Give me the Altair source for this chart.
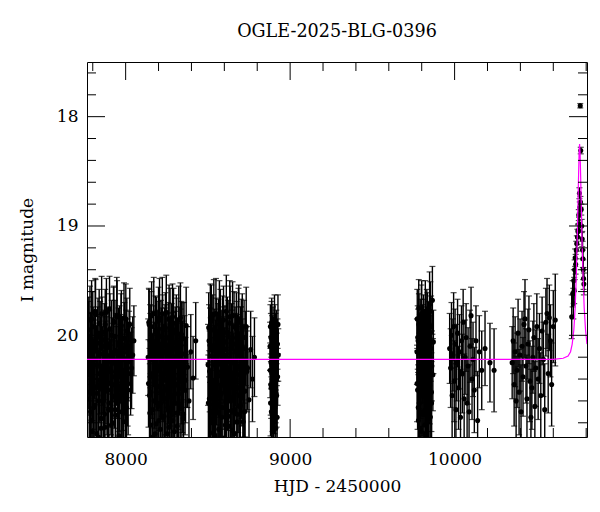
import altair as alt
import pandas as pd

FONT = "DejaVu Serif"

# ---- season 1 ----
s1_t = [7772, 7776, 7781, 7785, 7790, 7793, 7798, 7802, 7806, 7811,
        7815, 7819, 7824, 7828, 7832, 7837, 7841, 7845, 7850, 7854,
        7858, 7863, 7867, 7872, 7876, 7880, 7885, 7889, 7893, 7898,
        7902, 7906, 7911, 7915, 7920, 7924, 7928, 7933, 7937, 7941,
        7946, 7950, 7955, 7959, 7963, 7968, 7972, 7976, 7981, 7985,
        7990, 7994, 7998, 8003, 8007, 8012, 8018, 8025, 8036, 8050,
        7770, 7774, 7779, 7783, 7787, 7792, 7796, 7800, 7804, 7809,
        7813, 7817, 7822, 7826, 7830, 7835, 7839, 7843, 7848, 7852,
        7856, 7861, 7865, 7870, 7874, 7878, 7883, 7887, 7891, 7896,
        7900, 7904, 7909, 7913, 7918, 7922, 7926, 7931, 7935, 7939,
        7944, 7948, 7953, 7957, 7961, 7966, 7970, 7974, 7979, 7983,
        7988, 7992, 7996, 8001, 8005, 8010, 8015, 8021, 8030, 8043]
s1_m = [20.31, 19.95, 20.52, 20.12, 20.78, 19.85, 20.40, 20.05, 20.66, 20.22,
        19.78, 20.48, 20.90, 20.15, 19.98, 20.60, 20.35, 20.02, 20.85, 19.80,
        20.28, 20.55, 20.10, 20.72, 19.90, 20.42, 20.18, 20.95, 20.08, 20.62,
        19.76, 20.33, 20.50, 20.00, 20.80, 20.25, 19.88, 20.45, 20.68, 20.14,
        19.82, 20.58, 20.38, 20.92, 20.06, 20.26, 19.93, 20.70, 20.20, 20.47,
        19.84, 20.36, 20.64, 20.11, 19.96, 20.44, 20.24, 19.90, 20.30, 20.05,
        20.58, 20.02, 20.36, 19.86, 20.70, 20.20, 20.88, 19.92, 20.46, 20.13,
        20.64, 19.81, 20.27, 20.53, 20.07, 20.93, 19.89, 20.41, 20.17, 20.76,
        19.97, 20.34, 20.60, 20.04, 20.84, 20.23, 19.79, 20.50, 20.30, 20.68,
        20.11, 19.94, 20.44, 20.82, 20.19, 20.56, 19.87, 20.38, 20.01, 20.73,
        20.28, 19.83, 20.62, 20.09, 20.48, 20.96, 20.16, 19.91, 20.54, 20.32,
        20.79, 20.03, 20.40, 19.85, 20.66, 20.21, 20.50, 20.12, 20.35, 20.18]
s1_e = [0.36, 0.30, 0.42, 0.33, 0.48, 0.35, 0.38, 0.31, 0.45, 0.36,
        0.30, 0.40, 0.50, 0.34, 0.32, 0.44, 0.37, 0.33, 0.49, 0.34,
        0.36, 0.41, 0.33, 0.46, 0.32, 0.39, 0.35, 0.50, 0.34, 0.43,
        0.30, 0.37, 0.41, 0.32, 0.47, 0.36, 0.33, 0.40, 0.45, 0.34,
        0.35, 0.42, 0.38, 0.49, 0.33, 0.36, 0.31, 0.46, 0.35, 0.40,
        0.32, 0.37, 0.44, 0.34, 0.30, 0.39, 0.36, 0.33, 0.37, 0.32,
        0.42, 0.33, 0.37, 0.31, 0.46, 0.35, 0.49, 0.32, 0.40, 0.34,
        0.44, 0.32, 0.36, 0.41, 0.33, 0.50, 0.31, 0.39, 0.34, 0.47,
        0.32, 0.37, 0.43, 0.33, 0.48, 0.36, 0.31, 0.41, 0.36, 0.45,
        0.34, 0.32, 0.40, 0.48, 0.35, 0.42, 0.31, 0.38, 0.33, 0.46,
        0.36, 0.33, 0.44, 0.34, 0.40, 0.51, 0.35, 0.32, 0.42, 0.37,
        0.47, 0.33, 0.39, 0.32, 0.45, 0.36, 0.41, 0.34, 0.38, 0.35]

# ---- season 2 ----
s2_t = [8137, 8141, 8145, 8149, 8152, 8156, 8160, 8164, 8168, 8171,
        8175, 8179, 8183, 8187, 8190, 8194, 8198, 8202, 8206, 8209,
        8213, 8217, 8221, 8225, 8228, 8232, 8236, 8240, 8244, 8247,
        8251, 8255, 8259, 8263, 8266, 8270, 8274, 8278, 8282, 8285,
        8289, 8293, 8297, 8301, 8304, 8308, 8312, 8316, 8320, 8323,
        8327, 8331, 8335, 8339, 8342, 8346, 8350, 8355, 8361, 8368,
        8376, 8385, 8396, 8410, 8426,
        8139, 8143, 8147, 8150, 8154, 8158, 8162, 8166, 8170, 8173,
        8177, 8181, 8185, 8188, 8192, 8196, 8200, 8204, 8207, 8211,
        8215, 8219, 8223, 8226, 8230, 8234, 8238, 8242, 8245, 8249,
        8253, 8257, 8261, 8264, 8268, 8272, 8276, 8280, 8283, 8287,
        8291, 8295, 8299, 8302, 8306, 8310, 8314, 8318, 8321, 8325,
        8329, 8333, 8337, 8340, 8344, 8348, 8352, 8358, 8364, 8372]
s2_m = [20.20, 19.88, 20.55, 20.05, 20.82, 19.92, 20.38, 20.68, 20.12, 19.80,
        20.45, 20.90, 20.25, 19.97, 20.62, 20.32, 20.00, 20.78, 19.84, 20.28,
        20.52, 20.08, 20.74, 19.94, 20.40, 20.16, 20.96, 20.04, 20.58, 19.79,
        20.30, 20.48, 20.02, 20.84, 20.22, 19.90, 20.43, 20.66, 20.13, 19.83,
        20.56, 20.36, 20.88, 20.07, 20.27, 19.95, 20.71, 20.19, 20.46, 19.86,
        20.34, 20.63, 20.10, 19.99, 20.42, 20.23, 20.76, 20.03, 20.50, 19.91,
        20.29, 20.60, 20.15, 20.39, 20.05,
        20.44, 19.90, 20.71, 20.14, 20.52, 19.82, 20.35, 20.93, 20.06, 20.60,
        20.24, 19.96, 20.81, 20.31, 20.11, 20.65, 19.87, 20.47, 20.19, 20.86,
        20.01, 20.39, 19.80, 20.57, 20.26, 20.74, 20.09, 19.93, 20.50, 20.33,
        20.90, 20.15, 20.42, 19.85, 20.69, 20.22, 20.55, 20.04, 20.37, 20.78,
        19.89, 20.28, 20.62, 20.12, 20.45, 19.98, 20.83, 20.20, 20.53, 20.07,
        20.36, 19.84, 20.67, 20.25, 20.49, 20.03, 20.72, 20.17, 20.41, 20.29]
s2_e = [0.35, 0.31, 0.43, 0.33, 0.47, 0.32, 0.38, 0.45, 0.34, 0.33,
        0.40, 0.50, 0.36, 0.32, 0.44, 0.37, 0.31, 0.48, 0.36, 0.35,
        0.42, 0.33, 0.46, 0.31, 0.39, 0.34, 0.51, 0.32, 0.43, 0.34,
        0.36, 0.41, 0.32, 0.48, 0.35, 0.33, 0.40, 0.45, 0.34, 0.30,
        0.42, 0.38, 0.49, 0.33, 0.36, 0.32, 0.46, 0.35, 0.40, 0.31,
        0.37, 0.44, 0.34, 0.30, 0.39, 0.36, 0.47, 0.33, 0.41, 0.35,
        0.37, 0.43, 0.34, 0.38, 0.35,
        0.40, 0.32, 0.45, 0.34, 0.42, 0.31, 0.37, 0.50, 0.33, 0.44,
        0.36, 0.32, 0.48, 0.37, 0.34, 0.45, 0.31, 0.40, 0.35, 0.49,
        0.33, 0.38, 0.33, 0.43, 0.36, 0.46, 0.34, 0.32, 0.41, 0.37,
        0.50, 0.35, 0.39, 0.31, 0.45, 0.36, 0.42, 0.33, 0.38, 0.47,
        0.32, 0.36, 0.44, 0.34, 0.40, 0.32, 0.48, 0.35, 0.42, 0.33,
        0.37, 0.32, 0.45, 0.36, 0.40, 0.33, 0.46, 0.35, 0.39, 0.37]

# ---- season 3 ----
s3_t = [8501, 8505, 8509, 8513, 8517, 8521, 8524, 8528, 8532, 8536,
        8540, 8543, 8547, 8551, 8555, 8559, 8562, 8566, 8570, 8574,
        8578, 8581, 8585, 8589, 8593, 8597, 8600, 8604, 8608, 8612,
        8616, 8619, 8623, 8627, 8631, 8635, 8638, 8642, 8646, 8650,
        8654, 8657, 8661, 8665, 8669, 8673, 8676, 8680, 8684, 8688,
        8692, 8695, 8699, 8703, 8707, 8711, 8715, 8720, 8726, 8733,
        8741, 8750, 8760, 8771, 8783,
        8503, 8507, 8511, 8515, 8519, 8523, 8526, 8530, 8534, 8538,
        8542, 8545, 8549, 8553, 8557, 8561, 8564, 8568, 8572, 8576,
        8580, 8583, 8587, 8591, 8595, 8599, 8602, 8606, 8610, 8614,
        8618, 8621, 8625, 8629, 8633, 8637, 8640, 8644, 8648, 8652,
        8656, 8659, 8663, 8667, 8671, 8675, 8678, 8682, 8686, 8690,
        8694, 8697, 8701, 8705, 8709, 8713, 8718, 8723, 8730, 8737]
s3_m = [20.27, 19.93, 20.58, 20.09, 20.80, 19.87, 20.41, 20.70, 20.14, 19.81,
        20.49, 20.92, 20.21, 19.99, 20.64, 20.33, 20.03, 20.86, 19.85, 20.26,
        20.54, 20.11, 20.75, 19.96, 20.37, 20.18, 20.94, 20.06, 20.61, 19.78,
        20.31, 20.47, 20.01, 20.83, 20.24, 19.89, 20.44, 20.69, 20.12, 19.82,
        20.57, 20.35, 20.90, 20.08, 20.28, 19.94, 20.72, 20.17, 20.48, 19.86,
        20.36, 20.65, 20.09, 19.98, 20.43, 20.22, 20.79, 20.02, 20.51, 19.92,
        20.30, 20.59, 20.13, 20.40, 20.20,
        20.62, 20.05, 20.33, 19.84, 20.77, 20.19, 20.50, 19.95, 20.89, 20.27,
        20.10, 20.58, 19.80, 20.43, 20.16, 20.71, 20.00, 20.37, 20.95, 19.90,
        20.53, 20.23, 20.66, 20.08, 19.86, 20.46, 20.30, 20.82, 20.13, 20.56,
        19.97, 20.40, 20.74, 20.21, 19.83, 20.60, 20.34, 20.04, 20.87, 20.25,
        20.48, 19.92, 20.68, 20.15, 20.42, 20.02, 20.79, 20.29, 19.88, 20.55,
        20.18, 20.64, 20.07, 20.38, 19.94, 20.52, 20.26, 20.70, 20.12, 20.33]
s3_e = [0.37, 0.32, 0.44, 0.34, 0.48, 0.33, 0.39, 0.46, 0.35, 0.32,
        0.41, 0.50, 0.35, 0.33, 0.45, 0.38, 0.32, 0.49, 0.35, 0.36,
        0.43, 0.34, 0.47, 0.32, 0.38, 0.35, 0.51, 0.33, 0.44, 0.33,
        0.37, 0.40, 0.33, 0.48, 0.36, 0.34, 0.41, 0.46, 0.35, 0.31,
        0.43, 0.37, 0.50, 0.34, 0.37, 0.33, 0.47, 0.36, 0.41, 0.32,
        0.38, 0.45, 0.35, 0.31, 0.40, 0.37, 0.48, 0.34, 0.42, 0.36,
        0.38, 0.44, 0.35, 0.39, 0.36,
        0.44, 0.33, 0.37, 0.31, 0.47, 0.35, 0.41, 0.32, 0.49, 0.36,
        0.34, 0.43, 0.32, 0.39, 0.35, 0.46, 0.33, 0.38, 0.51, 0.32,
        0.41, 0.36, 0.45, 0.34, 0.31, 0.40, 0.37, 0.48, 0.34, 0.42,
        0.32, 0.39, 0.46, 0.35, 0.33, 0.43, 0.37, 0.33, 0.49, 0.36,
        0.40, 0.32, 0.45, 0.35, 0.39, 0.33, 0.47, 0.37, 0.31, 0.42,
        0.35, 0.44, 0.33, 0.38, 0.32, 0.41, 0.36, 0.46, 0.34, 0.37]

# ---- season 4 ----
s4_t = [8878, 8880, 8882, 8884, 8886, 8888, 8889, 8891, 8893, 8895,
        8896, 8898, 8900, 8901, 8903, 8905, 8906, 8908, 8910, 8911,
        8913, 8914, 8916, 8918, 8919, 8921, 8923, 8924, 8926, 8928,
        8879, 8881, 8883, 8885, 8887, 8890, 8892, 8894, 8897, 8899,
        8902, 8904, 8907, 8909, 8912]
s4_m = [20.10, 19.92, 20.45, 20.25, 20.70, 19.88, 20.35, 20.05, 20.58, 20.20,
        19.95, 20.80, 20.30, 20.12, 20.50, 19.85, 20.40, 20.65, 20.15, 20.02,
        20.85, 20.28, 19.98, 20.55, 20.22, 20.75, 20.08, 20.38, 19.90, 20.18,
        20.32, 20.62, 20.02, 20.48, 19.90, 20.72, 20.18, 20.42, 20.88, 20.06,
        20.36, 20.60, 19.94, 20.26, 20.52]
s4_e = [0.22, 0.20, 0.28, 0.24, 0.32, 0.22, 0.26, 0.23, 0.30, 0.24,
        0.21, 0.34, 0.25, 0.23, 0.28, 0.22, 0.27, 0.31, 0.24, 0.22,
        0.35, 0.25, 0.21, 0.29, 0.24, 0.33, 0.23, 0.26, 0.27, 0.24,
        0.25, 0.30, 0.22, 0.28, 0.21, 0.32, 0.24, 0.27, 0.35, 0.22,
        0.26, 0.30, 0.22, 0.24, 0.28]

# ---- season 5 ----
s5_t = [9771, 9773, 9775, 9778, 9780, 9782, 9784, 9786, 9789, 9791,
        9793, 9795, 9797, 9800, 9802, 9804, 9806, 9808, 9811, 9813,
        9815, 9817, 9819, 9822, 9824, 9826, 9828, 9830, 9833, 9835,
        9837, 9839, 9841, 9844, 9846, 9848, 9850, 9852, 9855, 9857,
        9859, 9862, 9865, 9868, 9871,
        9772, 9776, 9779, 9783, 9787, 9790, 9794, 9798, 9801, 9805,
        9809, 9812, 9816, 9820, 9823, 9827, 9831, 9834, 9838, 9842,
        9845, 9849, 9853, 9856, 9860]
s5_m = [20.15, 19.85, 20.50, 20.05, 20.78, 19.75, 20.35, 20.62, 20.10, 19.95,
        20.42, 20.88, 20.22, 19.80, 20.55, 20.30, 20.00, 20.72, 19.90, 20.26,
        20.48, 20.08, 20.82, 19.78, 20.38, 20.18, 20.92, 20.02, 20.60, 19.88,
        20.32, 20.45, 19.98, 20.68, 20.20, 19.72, 20.40, 20.75, 20.12, 19.92,
        20.52, 20.28, 19.68, 20.36, 20.06,
        20.44, 20.02, 20.66, 19.90, 20.30, 20.85, 20.14, 19.82, 20.52, 20.24,
        20.70, 19.96, 20.40, 20.10, 20.90, 20.34, 19.86, 20.58, 20.20, 20.76,
        20.04, 20.46, 19.78, 20.28, 20.62]
s5_e = [0.30, 0.27, 0.36, 0.29, 0.42, 0.26, 0.32, 0.38, 0.29, 0.28,
        0.34, 0.45, 0.31, 0.30, 0.37, 0.32, 0.28, 0.40, 0.27, 0.31,
        0.35, 0.29, 0.43, 0.28, 0.33, 0.30, 0.46, 0.28, 0.38, 0.27,
        0.32, 0.35, 0.29, 0.39, 0.31, 0.30, 0.34, 0.41, 0.30, 0.28,
        0.36, 0.32, 0.31, 0.33, 0.29,
        0.35, 0.29, 0.39, 0.28, 0.32, 0.44, 0.30, 0.28, 0.36, 0.31,
        0.40, 0.29, 0.34, 0.30, 0.45, 0.33, 0.28, 0.37, 0.31, 0.41,
        0.29, 0.35, 0.27, 0.32, 0.38]

# ---- season 6 ----
s6_t = [9970, 9976, 9981, 9985, 9990, 9994, 9998, 10003, 10008, 10013,
        10018, 10024, 10030, 10036, 10042, 10047, 10052, 10058, 10064, 10070,
        10076, 10082, 10088, 10094, 10100, 10106, 10112, 10120, 10130, 10140,
        10150, 10165, 10185, 10215, 10240]
s6_m = [20.12, 20.30, 20.00, 20.55, 20.18, 19.92, 20.42, 20.08, 20.68, 20.25,
        19.98, 20.48, 20.15, 20.75, 20.05, 20.35, 19.88, 20.58, 20.20, 20.02,
        20.62, 20.28, 20.70, 20.10, 19.82, 20.40, 20.22, 20.50, 20.05, 20.78,
        20.15, 20.32, 20.12, 20.25, 20.32]
s6_e = [0.32, 0.36, 0.30, 0.40, 0.33, 0.31, 0.37, 0.32, 0.42, 0.35,
        0.31, 0.38, 0.34, 0.44, 0.32, 0.36, 0.30, 0.41, 0.34, 0.31,
        0.40, 0.35, 0.43, 0.33, 0.26, 0.37, 0.34, 0.39, 0.32, 0.45,
        0.33, 0.36, 0.34, 0.36, 0.38]

# ---- season 7 ----
s7_t = [10350, 10356, 10362, 10368, 10374, 10380, 10386, 10392, 10398, 10404,
        10410, 10416, 10422, 10428, 10434, 10440, 10446, 10452, 10458, 10464,
        10470, 10476, 10482, 10488, 10494, 10500, 10508, 10516, 10524, 10532,
        10540, 10548, 10555, 10562, 10569, 10576, 10583, 10590, 10600, 10612]
s7_m = [20.25, 20.05, 20.45, 20.15, 20.60, 20.32, 19.98, 20.52, 20.18, 20.70,
        20.10, 20.38, 19.90, 19.85, 20.28, 20.58, 20.08, 19.95, 20.42, 20.75,
        20.48, 20.20, 20.02, 20.65, 20.30, 19.92, 20.40, 20.12, 20.55, 19.96,
        20.22, 20.68, 19.88, 19.80, 20.35, 19.84, 20.05, 20.45, 19.92, 19.86]
s7_e = [0.33, 0.30, 0.38, 0.32, 0.41, 0.34, 0.31, 0.39, 0.33, 0.43,
        0.32, 0.36, 0.30, 0.36, 0.34, 0.40, 0.32, 0.31, 0.37, 0.44,
        0.38, 0.33, 0.31, 0.41, 0.35, 0.30, 0.37, 0.32, 0.39, 0.31,
        0.34, 0.42, 0.31, 0.32, 0.36, 0.30, 0.33, 0.38, 0.33, 0.42]

# ---- event season ----
s8_t = [10712, 10718, 10722, 10725, 10727, 10730, 10733, 10736, 10740, 10743,
        10747, 10750, 10752, 10755, 10757, 10759, 10761, 10764, 10765, 10767,
        10770, 10773, 10776, 10778, 10780, 10782, 10784, 10786]
s8_m = [19.83, 19.62, 19.71, 19.50, 19.59, 19.40, 19.29, 19.35, 19.22, 19.16,
        19.10, 19.05, 19.04, 18.90, 18.98, 18.70, 18.83, 17.90, 18.78, 18.31,
        18.85, 19.00, 19.12, 19.22, 19.30, 19.40, 19.48, 19.53]
s8_e = [0.20, 0.12, 0.14, 0.10, 0.12, 0.09, 0.08, 0.09, 0.08, 0.07,
        0.07, 0.06, 0.06, 0.05, 0.06, 0.05, 0.05, 0.02, 0.05, 0.03,
        0.05, 0.06, 0.07, 0.08, 0.08, 0.09, 0.10, 0.10]

# ---- model curve ----
model_t = [7765, 10600, 10660, 10690, 10705, 10715, 10725, 10733, 10740, 10745, 10750,
           10754, 10757, 10760, 10763, 10766, 10770, 10775, 10781, 10788, 10796, 10805]
model_m = [20.22, 20.22, 20.21, 20.19, 20.15, 20.08, 19.95, 19.75, 19.45, 19.15, 18.80,
           18.52, 18.33, 18.25, 18.33, 18.52, 18.80, 19.15, 19.45, 19.75, 19.95, 20.08]

# ---- axis ticks ----
x_major = [8000, 9000, 10000]
x_minor = [7800, 8200, 8400, 8600, 8800, 9200, 9400, 9600, 9800, 10200, 10400, 10600, 10800]
y_major = [18, 19, 20]
y_minor = [17.6, 17.8, 18.2, 18.4, 18.6, 18.8, 19.2, 19.4, 19.6, 19.8, 20.2, 20.4, 20.6, 20.8]

X_DOMAIN = [7765, 10805]
Y_DOMAIN = [17.5, 20.93]
W, H = 500, 375
MAJ, MIN = 18, 9

seasons = [(s1_t, s1_m, s1_e), (s2_t, s2_m, s2_e), (s3_t, s3_m, s3_e),
           (s4_t, s4_m, s4_e), (s5_t, s5_m, s5_e), (s6_t, s6_m, s6_e),
           (s7_t, s7_m, s7_e), (s8_t, s8_m, s8_e)]
rows = []
for ts, ms, es in seasons:
    for t, m, e in zip(ts, ms, es):
        rows.append({"t": t, "m": m, "lo": m - e, "hi": m + e})
df = pd.DataFrame(rows)
model_df = pd.DataFrame({"t": model_t, "m": model_m})

xs = alt.Scale(domain=X_DOMAIN, nice=False, zero=False)
ys = alt.Scale(domain=Y_DOMAIN, nice=False, zero=False, reverse=True)

x_axis = alt.Axis(values=x_major, format="d", ticks=False, tickSize=0, domain=False, grid=False,
                  labelFont=FONT, labelFontSize=17, labelColor="black", labelPadding=14,
                  labelFlush=False,
                  title="HJD - 2450000", titleFont=FONT, titleFontSize=17,
                  titleFontWeight="normal", titleColor="black", titleY=54,
                  titleBaseline="alphabetic")
y_axis = alt.Axis(values=y_major, format="d", ticks=False, tickSize=0, domain=False, grid=False,
                  labelFont=FONT, labelFontSize=17, labelColor="black", labelPadding=9,
                  labelFlush=False,
                  title="I magnitude", titleFont=FONT, titleFontSize=17,
                  titleFontWeight="normal", titleColor="black", titleAngle=270,
                  titleX=-60, titleY=H / 2, titleAlign="center", titleBaseline="middle")

X = alt.X("t:Q", scale=xs, axis=x_axis)

base = alt.Chart(df)
errbars = base.mark_rule(color="black", strokeWidth=1.4, clip=True).encode(
    x=X, y=alt.Y("lo:Q", scale=ys, axis=y_axis), y2="hi:Q",
)
cap_lo = base.mark_tick(orient="horizontal", size=6, thickness=1.2, color="black", clip=True).encode(
    x=X, y=alt.Y("lo:Q", scale=ys, axis=y_axis),
)
cap_hi = base.mark_tick(orient="horizontal", size=6, thickness=1.2, color="black", clip=True).encode(
    x=X, y=alt.Y("hi:Q", scale=ys, axis=y_axis),
)
points = base.mark_circle(size=26, color="black", opacity=1, clip=True).encode(
    x=X, y=alt.Y("m:Q", scale=ys, axis=y_axis),
)
model = alt.Chart(model_df).mark_line(color="#ff00ff", strokeWidth=1.2, clip=True).encode(
    x=X, y=alt.Y("m:Q", scale=ys, axis=y_axis),
)


def xticks(vals, length):
    d = pd.DataFrame({"t": vals})
    top = alt.Chart(d).mark_rule(color="black", strokeWidth=1).encode(
        x=X, y=alt.value(0), y2=alt.value(length))
    bot = alt.Chart(d).mark_rule(color="black", strokeWidth=1).encode(
        x=X, y=alt.value(H), y2=alt.value(H - length))
    return [top, bot]


def yticks(vals, length):
    d = pd.DataFrame({"m": vals})
    left = alt.Chart(d).mark_rule(color="black", strokeWidth=1).encode(
        y=alt.Y("m:Q", scale=ys, axis=y_axis), x=alt.value(0), x2=alt.value(length))
    right = alt.Chart(d).mark_rule(color="black", strokeWidth=1).encode(
        y=alt.Y("m:Q", scale=ys, axis=y_axis), x=alt.value(W), x2=alt.value(W - length))
    return [left, right]


layers = [errbars, cap_lo, cap_hi, points, model]
layers += xticks(x_major, MAJ) + xticks(x_minor, MIN) + yticks(y_major, MAJ) + yticks(y_minor, MIN)

chart = alt.layer(*layers).properties(
    width=W, height=H,
    title=alt.TitleParams("OGLE-2025-BLG-0396", font=FONT, fontSize=17.6, fontWeight="normal",
                          color="black", anchor="middle", baseline="alphabetic", offset=7),
    autosize=alt.AutoSizeParams(type="none"),
    padding={"left": 79, "top": 54, "right": 5, "bottom": 60},
).configure_view(stroke="black", strokeWidth=1)

chart.save("out.html", embed_options={"renderer": "svg", "actions": False})
